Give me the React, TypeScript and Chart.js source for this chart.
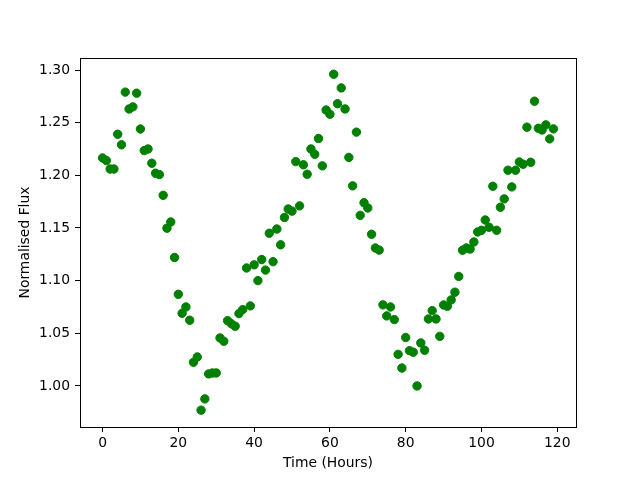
import React, { useEffect, useRef } from "react";
import { Chart, registerables } from "chart.js";

Chart.register(...registerables);

const hours: number[] = Array.from({ length: 120 }, (_, i) => i);

const flux: number[] = [
  1.2165, 1.214, 1.206, 1.206, 1.239, 1.229, 1.279, 1.263, 1.265, 1.278,
  1.244, 1.2235, 1.225, 1.2115, 1.202, 1.2007, 1.181, 1.1498, 1.1557, 1.122,
  1.087, 1.069, 1.075, 1.0624, 1.0225, 1.0275, 0.977, 0.9877, 1.0114, 1.0123,
  1.0123, 1.0456, 1.0424, 1.062, 1.059, 1.0567, 1.0687, 1.0725, 1.112, 1.076,
  1.115, 1.1, 1.12, 1.11, 1.145, 1.118, 1.149, 1.134, 1.16, 1.168,
  1.166, 1.213, 1.171, 1.21, 1.201, 1.225, 1.22, 1.235, 1.209, 1.262,
  1.258, 1.296, 1.268, 1.283, 1.263, 1.217, 1.19, 1.241, 1.162, 1.174,
  1.169, 1.144, 1.131, 1.129, 1.077, 1.0665, 1.075, 1.063, 1.03, 1.017,
  1.046, 1.0335, 1.032, 1.0, 1.0408, 1.0339, 1.0636, 1.0715, 1.0636, 1.0471,
  1.0769, 1.0757, 1.0817, 1.089, 1.104, 1.1289, 1.131, 1.13, 1.1367, 1.1462,
  1.1478, 1.1576, 1.1507, 1.1896, 1.1478, 1.1697, 1.1776, 1.2048, 1.189, 1.2048,
  1.2127, 1.2105, 1.2457, 1.2124, 1.2704, 1.2447, 1.2431, 1.2479, 1.2346, 1.2441,
];

const xTicks: number[] = [0, 20, 40, 60, 80, 100, 120];
const yTicks: number[] = [1.0, 1.05, 1.1, 1.15, 1.2, 1.25, 1.3];

const FONT = "'DejaVu Sans', sans-serif";

const frame = {
  id: "frame",
  afterDraw(chart: any) {
    const { ctx, chartArea } = chart;
    ctx.save();
    ctx.strokeStyle = "#000";
    ctx.lineWidth = 1;
    ctx.strokeRect(
      Math.round(chartArea.left) + 0.5,
      Math.round(chartArea.top) + 0.5,
      Math.round(chartArea.right - chartArea.left),
      Math.round(chartArea.bottom - chartArea.top)
    );
    ctx.restore();
  },
};

export default function App() {
  const ref = useRef<HTMLCanvasElement | null>(null);
  useEffect(() => {
    if (!ref.current) return;
    const chart = new Chart(ref.current, {
      type: "scatter",
      data: {
        datasets: [
          {
            data: hours.map((h, i) => ({ x: h, y: flux[i] })),
            backgroundColor: "#008000",
            borderColor: "#008000",
            borderWidth: 1,
            pointRadius: 4.2,
            pointHoverRadius: 4.2,
          },
        ],
      },
      options: {
        animation: false,
        responsive: false,
        events: [],
        layout: { padding: { top: 58, right: 64, left: 0, bottom: 0 } },
        plugins: { legend: { display: false }, tooltip: { enabled: false } },
        scales: {
          x: {
            type: "linear",
            min: -5.95,
            max: 124.95,
            afterBuildTicks: (s: any) => {
              s.ticks = xTicks.map((v) => ({ value: v }));
            },
            afterFit: (s: any) => {
              s.height = 53;
            },
            grid: {
              display: true,
              drawOnChartArea: false,
              drawTicks: true,
              tickLength: 5,
              tickColor: "#000",
              tickWidth: 1,
            },
            border: { display: false },
            ticks: {
              color: "#000",
              padding: 3,
              maxRotation: 0,
              autoSkip: false,
              font: { family: FONT, size: 13.9 },
              callback: (v: any) => String(v),
            },
            title: {
              display: true,
              text: "Time (Hours)",
              color: "#000",
              font: { family: FONT, size: 13.9 },
              padding: { top: 0, bottom: 8.7 },
            },
          },
          y: {
            type: "linear",
            min: 0.961,
            max: 1.3114,
            afterBuildTicks: (s: any) => {
              s.ticks = yTicks.map((v) => ({ value: v }));
            },
            afterFit: (s: any) => {
              s.width = 80;
            },
            grid: {
              display: true,
              drawOnChartArea: false,
              drawTicks: true,
              tickLength: 5,
              tickColor: "#000",
              tickWidth: 1,
            },
            border: { display: false },
            ticks: {
              color: "#000",
              padding: 5,
              autoSkip: false,
              font: { family: FONT, size: 13.9 },
              callback: (v: any) => Number(v).toFixed(2),
            },
            title: {
              display: true,
              text: "Normalised Flux",
              color: "#000",
              font: { family: FONT, size: 13.9 },
              padding: { top: 17, bottom: 0 },
            },
          },
        },
      },
      plugins: [frame],
    });
    return () => chart.destroy();
  }, []);
  return (
    <div style={{ position: "fixed", left: 0, top: 0, width: 640, height: 480, background: "#fff" }}>
      <canvas ref={ref} width={640} height={480} style={{ width: 640, height: 480 }} />
    </div>
  );
}
